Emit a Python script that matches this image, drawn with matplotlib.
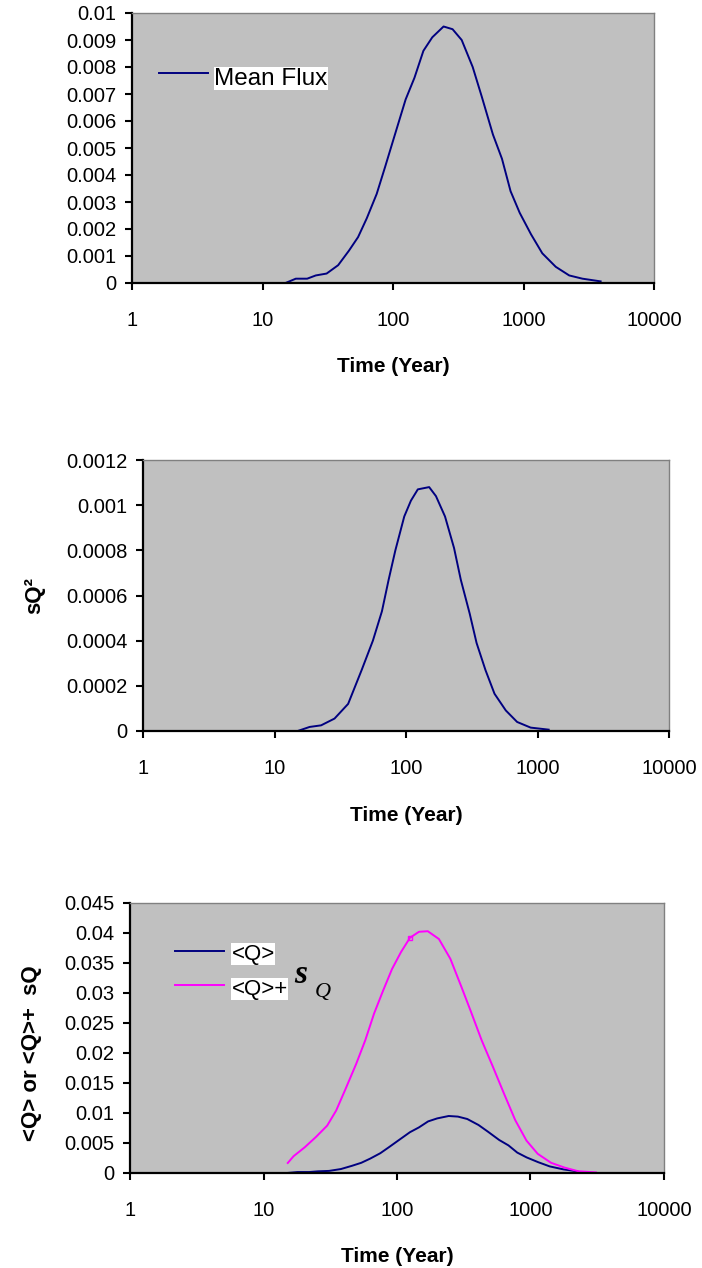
import matplotlib
matplotlib.use('Agg')
import matplotlib.pyplot as plt
import numpy as np

plt.rcParams['font.family'] = ['Liberation Sans', 'DejaVu Sans']

# mean flux <Q> (top panel, also blue line of bottom panel)
flux_time = np.array([15, 18, 22, 25.6, 31, 38, 46, 54, 63, 75, 87, 102, 125, 146, 171,
                      200, 244, 286, 336, 408, 479, 583, 684, 796, 935, 1143, 1393,
                      1766, 2240, 2830, 3900])
flux_mean = np.array([0, 0.00016, 0.00016, 0.00028, 0.00035, 0.00066, 0.0012, 0.0017,
                      0.0024, 0.0033, 0.0043, 0.0054, 0.0068, 0.0076, 0.0086, 0.0091,
                      0.0095, 0.0094, 0.0090, 0.0080, 0.0069, 0.0055, 0.0046, 0.0034,
                      0.0026, 0.0018, 0.0011, 0.0006, 0.00028, 0.00016, 0.00006])

# variance sQ^2 (middle panel)
var_time = np.array([15, 18.5, 22.6, 28.6, 36.3, 46, 56, 65.6, 73.8, 83, 97, 109, 123,
                     150, 169, 198, 232, 261, 305, 344, 402, 471, 574, 700, 887, 1216])
var_q = np.array([0, 0.000018, 0.000025, 0.000055, 0.00012, 0.00027, 0.0004, 0.00053,
                  0.00067, 0.0008, 0.00095, 0.00102, 0.00107, 0.00108, 0.00104, 0.00095,
                  0.00081, 0.00067, 0.00052, 0.00039, 0.00027, 0.000165, 0.000091,
                  0.00004, 0.000015, 0.000006])

# <Q> + sQ (bottom panel)
upper_time = np.array([15.2, 16.8, 20.4, 24.7, 30, 35, 40.8, 49.5, 57.8, 67.4, 78.7, 91.8,
                       107, 125, 146, 170, 206, 251, 304, 355, 431, 523, 634, 769, 933,
                       1132, 1426, 1799, 2270, 3090])
upper_q = np.array([0.00167, 0.0028, 0.0043, 0.006, 0.0079, 0.0104, 0.0138, 0.0182,
                    0.0221, 0.0266, 0.0304, 0.034, 0.0368, 0.0392, 0.0402, 0.0403, 0.039,
                    0.0357, 0.031, 0.0271, 0.0221, 0.0177, 0.0132, 0.0088, 0.0054,
                    0.0032, 0.0017, 0.0009, 0.0003, 0.0001])
blue_end = 2300   # blue line in bottom panel stops earlier

x_ticks = [1, 10, 100, 1000, 10000]
x_labels = ['1', '10', '100', '1000', '10000']
y1_ticks = [i * 0.001 for i in range(11)]
y1_labels = ['0', '0.001', '0.002', '0.003', '0.004', '0.005', '0.006', '0.007',
             '0.008', '0.009', '0.01']
y2_ticks = [i * 0.0002 for i in range(7)]
y2_labels = ['0', '0.0002', '0.0004', '0.0006', '0.0008', '0.001', '0.0012']
y3_ticks = [i * 0.005 for i in range(10)]
y3_labels = ['0', '0.005', '0.01', '0.015', '0.02', '0.025', '0.03', '0.035', '0.04',
             '0.045']

W, H = 702, 1268
NAVY = '#000080'
MAG = '#FF00FF'
GRAY = '#C0C0C0'


def px_axes(fig, left, right, top, bottom):
    return fig.add_axes([left / W, (H - bottom) / H, (right - left) / W, (bottom - top) / H])


def style(ax, yticks, ylabels, ymax):
    ax.set_facecolor(GRAY)
    ax.set_xscale('log')
    ax.set_xlim(1, 10000)
    ax.set_ylim(0, ymax)
    ax.set_xticks(x_ticks)
    ax.set_xticklabels(x_labels)
    ax.xaxis.set_minor_locator(matplotlib.ticker.NullLocator())
    ax.set_yticks(yticks)
    ax.set_yticklabels(ylabels)
    for s in ['left', 'bottom']:
        ax.spines[s].set_linewidth(1.6)
        ax.spines[s].set_color('black')
    for s in ['top', 'right']:
        ax.spines[s].set_linewidth(1.0)
        ax.spines[s].set_color('#808080')
    ax.tick_params(axis='both', direction='out', length=5, width=1.5, labelsize=14.5,
                   colors='black')
    ax.tick_params(axis='x', pad=15)
    ax.tick_params(axis='y', pad=6)
    ax.set_xlabel('Time (Year)', fontsize=15, fontweight='bold')
    ax.xaxis.set_label_coords(0.5, -0.275)


fig = plt.figure(figsize=(W / 100, H / 100), dpi=100)

# ── panel 1: mean flux ──
ax1 = px_axes(fig, 132, 654, 13, 283)
style(ax1, y1_ticks, y1_labels, 0.01)
ax1.plot(flux_time, flux_mean, color=NAVY, lw=1.4)
ax1.plot([0.052, 0.146], [0.778, 0.778], color=NAVY, lw=1.4, transform=ax1.transAxes)
ax1.text(0.158, 0.735, 'Mean Flux', transform=ax1.transAxes, fontsize=17.5,
         va='baseline', bbox=dict(facecolor='white', edgecolor='none', pad=0.5))

# ── panel 2: variance ──
ax2 = px_axes(fig, 143, 669, 460, 731)
style(ax2, y2_ticks, y2_labels, 0.0012)
ax2.plot(var_time, var_q, color=NAVY, lw=1.4)
ax2.set_ylabel('sQ\u00b2', fontsize=16, fontweight='bold')
ax2.yaxis.set_label_coords(-0.186, 0.5)

# ── panel 3: <Q> and <Q>+sQ ──
ax3 = px_axes(fig, 130, 664, 903, 1173)
style(ax3, y3_ticks, y3_labels, 0.045)
keep = flux_time <= blue_end
ax3.plot(flux_time[keep], flux_mean[keep], color=NAVY, lw=1.4)
mark_i = int(np.where(upper_time == 125)[0][0])
ax3.plot(upper_time, upper_q, color=MAG, lw=1.4, marker='s', markevery=[mark_i],
         markersize=3.5, markerfacecolor='none', markeredgecolor=MAG)
ax3.set_ylabel('<Q> or <Q>+  sQ', fontsize=16, fontweight='bold')
ax3.yaxis.set_label_coords(-0.165, 0.444)

ax3.plot([0.084, 0.176], [0.822, 0.822], color=NAVY, lw=1.4, transform=ax3.transAxes)
ax3.plot([0.084, 0.176], [0.696, 0.696], color=MAG, lw=1.4, transform=ax3.transAxes)
ax3.text(0.190, 0.79, '<Q>', transform=ax3.transAxes, fontsize=16,
         va='baseline', bbox=dict(facecolor='white', edgecolor='none', pad=0.5))
ax3.text(0.190, 0.66, '<Q>+', transform=ax3.transAxes, fontsize=16,
         va='baseline', bbox=dict(facecolor='white', edgecolor='none', pad=0.5))
ax3.text(0.308, 0.705, 's', transform=ax3.transAxes, fontsize=24, family='Liberation Serif',
         fontweight='bold', fontstyle='italic', va='baseline')
ax3.text(0.346, 0.652, 'Q', transform=ax3.transAxes, fontsize=16, family='Liberation Serif',
         fontstyle='italic', va='baseline')

fig.savefig('out.png', dpi=100)
